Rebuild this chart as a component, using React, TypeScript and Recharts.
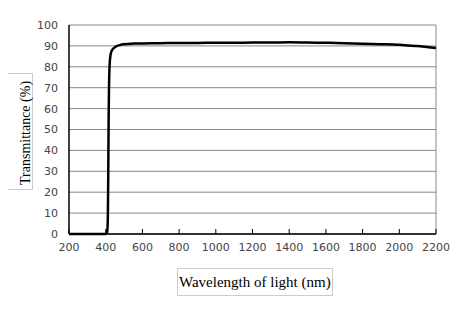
import React from 'react';
import { LineChart, Line, XAxis, YAxis, CartesianGrid, ReferenceLine } from 'recharts';

// wavelength (nm) and transmittance (%)
const wavelengths = [200, 300, 400, 405, 408, 410, 412, 414, 416, 418, 420, 423, 426, 430, 435, 440, 450, 460, 480, 500, 550, 600, 700, 800, 900, 1000, 1100, 1200, 1300, 1400, 1500, 1600, 1700, 1800, 1900, 2000, 2050, 2100, 2150, 2200];
const transmittance = [0, 0, 0, 0.3, 1, 3, 10, 30, 55, 70, 78, 83, 85.5, 87, 88, 88.6, 89.4, 89.9, 90.5, 90.8, 91.1, 91.2, 91.3, 91.4, 91.4, 91.5, 91.5, 91.6, 91.6, 91.7, 91.6, 91.5, 91.3, 91.0, 90.8, 90.5, 90.2, 89.9, 89.5, 89];

const xTicks = [200, 400, 600, 800, 1000, 1200, 1400, 1600, 1800, 2000, 2200];
const yTicks = [0, 10, 20, 30, 40, 50, 60, 70, 80, 90, 100];

const data = wavelengths.map((w, i) => ({ w, t: transmittance[i] }));

const tickStyle = { fontSize: 11, fill: '#444', fontFamily: 'DejaVu Sans' };
const serif = '"Liberation Serif", serif';

export default function App() {
  return (
    <div style={{ position: 'relative', margin: -8, width: 465, height: 310, background: '#fff' }}>
      <LineChart width={465} height={310} data={data} margin={{ top: 25, right: 29, left: 0, bottom: 0 }}>
        <CartesianGrid vertical={false} stroke="#888" />
        <ReferenceLine x={2200} stroke="#888" />
        <XAxis
          dataKey="w"
          type="number"
          domain={[200, 2200]}
          ticks={xTicks}
          height={76}
          axisLine={{ stroke: '#000', strokeWidth: 1.5 }}
          tickLine={{ stroke: '#000' }}
          tickSize={-5}
          tickMargin={14}
          tick={tickStyle}
          interval={0}
        />
        <YAxis
          type="number"
          domain={[0, 100]}
          ticks={yTicks}
          width={69}
          axisLine={{ stroke: '#000', strokeWidth: 1.5 }}
          tickLine={false}
          tickSize={0}
          tickMargin={11}
          tick={tickStyle}
          interval={0}
        />
        <Line dataKey="t" type="monotone" stroke="#000" strokeWidth={2.5} dot={false} isAnimationActive={false} />
      </LineChart>
      <div
        style={{
          position: 'absolute', left: 3, top: 73, width: 30, height: 117,
          border: '1px solid #ccc', boxSizing: 'border-box',
        }}
      >
        <div
          style={{
            position: 'absolute', left: 14, top: 111, transform: 'rotate(-90deg)', transformOrigin: '0 0',
            fontFamily: serif, fontSize: 14, lineHeight: '16px', color: '#000', whiteSpace: 'nowrap',
          }}
        >
          Transmittance (%)
        </div>
      </div>
      <div
        style={{
          position: 'absolute', left: 177, top: 268, width: 156, height: 28,
          border: '1px solid #ccc', boxSizing: 'border-box',
          fontFamily: serif, fontSize: 15, color: '#000', whiteSpace: 'nowrap',
          lineHeight: '26px', paddingLeft: 1,
        }}
      >
        Wavelength of light (nm)
      </div>
    </div>
  );
}
